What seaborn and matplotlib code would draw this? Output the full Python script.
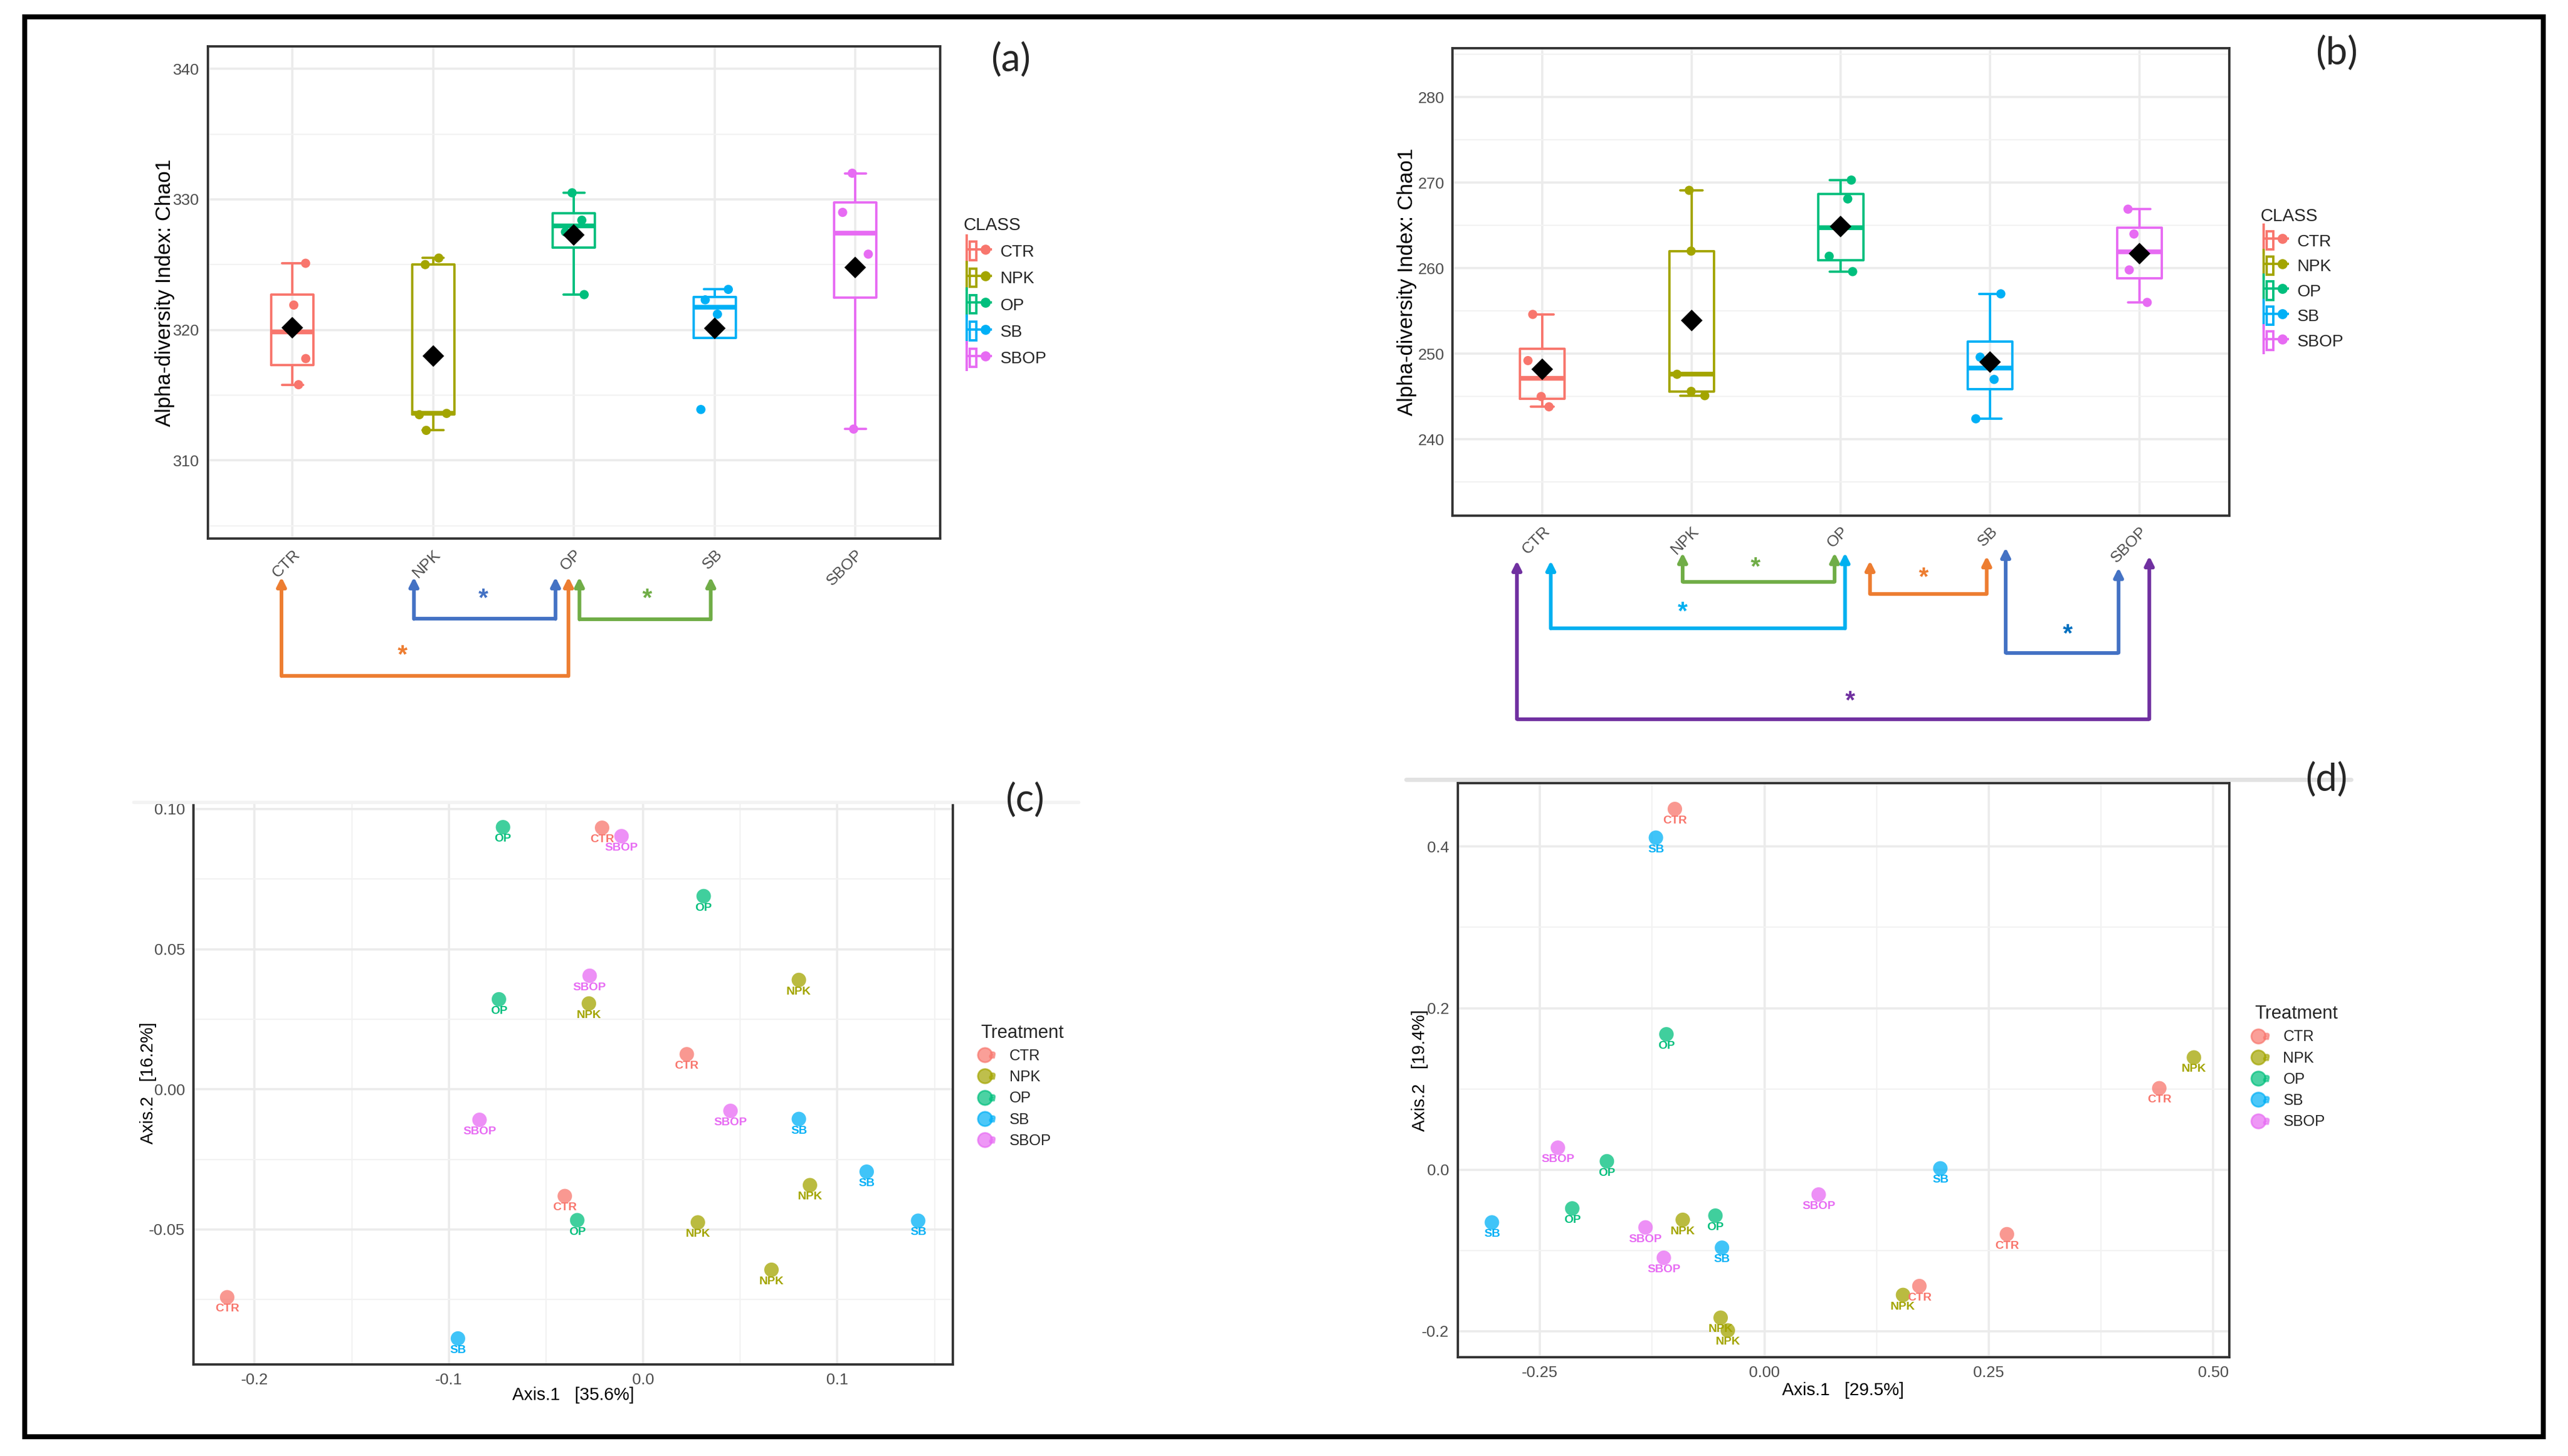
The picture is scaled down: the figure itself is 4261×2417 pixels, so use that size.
import numpy as np
import pandas as pd
import matplotlib
matplotlib.use("Agg")
import matplotlib.pyplot as plt
import matplotlib.transforms as mtransforms
from matplotlib.patches import Patch, Rectangle
from matplotlib.lines import Line2D
from matplotlib.legend_handler import HandlerTuple
from matplotlib.ticker import MultipleLocator, FixedLocator
import seaborn as sns

# groups and colours (ggplot default hues)
classes = ["CTR", "NPK", "OP", "SB", "SBOP"]
colors = ["#F8766D", "#A3A500", "#00BF7D", "#00B0F6", "#E76BF3"]

# Chao1 values, panel (a)
a_ctr = [325.1, 321.9, 317.8, 315.8]
a_npk = [325.5, 325.0, 313.6, 313.5, 312.3]
a_op = [330.5, 328.4, 327.5, 322.7]
a_sb = [323.1, 322.3, 321.2, 313.9]
a_sbop = [332.0, 329.0, 325.8, 312.4]

# Chao1 values, panel (b)
b_ctr = [254.6, 249.2, 245.0, 243.8]
b_npk = [269.1, 262.0, 247.6, 245.6, 245.1]
b_op = [270.3, 268.1, 261.4, 259.6]
b_sb = [257.0, 249.6, 247.0, 242.4]
b_sbop = [266.9, 264.0, 259.8, 256.0]

# PCoA, panel (c)
c_treat = ["OP", "CTR", "SBOP", "OP", "SBOP", "NPK", "OP", "NPK", "CTR", "SBOP", "SB",
           "SBOP", "SB", "NPK", "CTR", "OP", "NPK", "SB", "NPK", "CTR", "SB"]
c_axis1 = [-0.0721, -0.0211, -0.0111, 0.0312, -0.0275, 0.0802, -0.0742, -0.0279, 0.0225, 0.0450, 0.0802,
           -0.0842, 0.1151, 0.0859, -0.0403, -0.0339, 0.0282, 0.1416, 0.0661, -0.2141, -0.0953]
c_axis2 = [0.0935, 0.0933, 0.0903, 0.0689, 0.0405, 0.0390, 0.0321, 0.0306, 0.0125, -0.0077, -0.0106,
           -0.0109, -0.0294, -0.0342, -0.0381, -0.0467, -0.0475, -0.0469, -0.0644, -0.0742, -0.0889]

# PCoA, panel (d)
d_treat = ["CTR", "SB", "OP", "NPK", "CTR", "SBOP", "OP", "SB", "SBOP", "OP", "SB",
           "NPK", "OP", "SBOP", "CTR", "SB", "SBOP", "CTR", "NPK", "NPK", "NPK"]
d_axis1 = [-0.0998, -0.1209, -0.1092, 0.4784, 0.4398, -0.2301, -0.1755, 0.1959, 0.0604, -0.2141, -0.3036,
           -0.0910, -0.0546, -0.1325, 0.2701, -0.0473, -0.1121, 0.1726, 0.1544, -0.0488, -0.0408]
d_axis2 = [0.4465, 0.4110, 0.1676, 0.1389, 0.1008, 0.0272, 0.0104, 0.0016, -0.0308, -0.0480, -0.0653,
           -0.0621, -0.0569, -0.0715, -0.0799, -0.0966, -0.1091, -0.1441, -0.1551, -0.1833, -0.1990]

# significance pairs below the box plots
a_pairs = [("NPK", "OP"), ("OP", "SB"), ("CTR", "OP")]
b_pairs = [("NPK", "OP"), ("CTR", "OP"), ("OP", "SB"), ("SB", "SBOP"), ("CTR", "SBOP")]


def long_df(groups):
    rows = []
    for name, vals in zip(classes, groups):
        for v in vals:
            rows.append((name, v))
    return pd.DataFrame(rows, columns=["CLASS", "chao1"])


def style_axes(ax):
    for s in ax.spines.values():
        s.set_color("#333333")
        s.set_linewidth(1.4)
    ax.set_facecolor("white")
    ax.grid(True, which="major", color="#EBEBEB", linewidth=1.3, zorder=0)
    ax.grid(True, which="minor", color="#F2F2F2", linewidth=0.8, zorder=0)
    ax.set_axisbelow(True)
    ax.tick_params(which="major", length=3, width=0.9, color="#333333",
                   labelcolor="#4D4D4D", labelsize=9.5, pad=2)
    ax.tick_params(which="minor", length=0)


def box_panel(ax, groups, ylim, yticks, seed):
    df = long_df(groups)
    pal = dict(zip(classes, colors))
    sns.boxplot(data=df, x="CLASS", y="chao1", hue="CLASS", order=classes, palette=pal,
                fill=False, width=0.3, whis=1.5, showfliers=False, linewidth=1.4,
                legend=False, medianprops={"linewidth": 2.8}, ax=ax)
    np.random.seed(seed)
    sns.stripplot(data=df, x="CLASS", y="chao1", hue="CLASS", order=classes, palette=pal,
                  jitter=0.1, size=5.5, legend=False, zorder=3, ax=ax)
    sns.pointplot(data=df, x="CLASS", y="chao1", order=classes, estimator="mean", errorbar=None,
                  color="black", markers="D", linestyle="none", markersize=7, zorder=5, ax=ax)
    ax.set_xlim(-0.6, 4.6)
    ax.set_ylim(*ylim)
    ax.yaxis.set_major_locator(FixedLocator(yticks))
    ax.yaxis.set_minor_locator(MultipleLocator(5))
    style_axes(ax)
    ax.set_xlabel("")
    ax.set_ylabel("Alpha-diversity Index: Chao1", fontsize=12.5, color="black")
    ax.set_xticks(range(len(classes)))
    ax.set_xticklabels(classes)
    ax.tick_params(axis="x", labelrotation=45)
    for lab in ax.get_xticklabels():
        lab.set_horizontalalignment("right")
        lab.set_verticalalignment("top")
        lab.set_rotation_mode("anchor")
    handles = []
    for c in colors:
        handles.append((Line2D([], [], color=c, marker="|", markersize=18, markeredgewidth=1.4, linestyle="none"),
                        Patch(facecolor="white", edgecolor=c, linewidth=1.4),
                        Line2D([], [], color=c, marker="_", markersize=15, markeredgewidth=1.4, linestyle="none"),
                        Line2D([], [], color=c, marker="o", markersize=5, linestyle="none")))
    return handles


def bracket(ax, x1, x2, tip1, tip2, level, color, star_x, star_y, star_color):
    tr = mtransforms.blended_transform_factory(ax.transData, ax.transAxes)
    ax.plot([x1, x2], [level, level], color=color, lw=2.2, transform=tr, clip_on=False,
            solid_capstyle="butt")
    for x, tip in ((x1, tip1), (x2, tip2)):
        ax.annotate("", xy=(x, tip), xytext=(x, level), xycoords=tr, textcoords=tr,
                    annotation_clip=False,
                    arrowprops=dict(arrowstyle="-|>", color=color, lw=2.2, shrinkA=0, shrinkB=0,
                                    mutation_scale=11))
    ax.text(star_x, star_y, "*", transform=tr, ha="center", va="center", fontsize=15,
            fontweight="bold", color=star_color, clip_on=False)


def pcoa_panel(ax, treat, x, y, xlim, ylim, xticks, xlabels, yticks, ylabels, xminor, yminor):
    df = pd.DataFrame({"Treatment": treat, "Axis.1": x, "Axis.2": y})
    pal = dict(zip(classes, colors))
    sns.scatterplot(data=df, x="Axis.1", y="Axis.2", hue="Treatment", hue_order=classes,
                    palette=pal, s=75, alpha=0.75, edgecolor="none", legend=False, zorder=3, ax=ax)
    for t, px, py in zip(df["Treatment"], df["Axis.1"], df["Axis.2"]):
        ax.annotate(t, (px, py), xytext=(0, -7), textcoords="offset points", ha="center",
                    va="center", fontsize=7, fontweight="bold", color=pal[t], zorder=4)
    ax.set_xlim(*xlim)
    ax.set_ylim(*ylim)
    ax.set_xticks(xticks)
    ax.set_xticklabels(xlabels)
    ax.set_yticks(yticks)
    ax.set_yticklabels(ylabels)
    ax.xaxis.set_minor_locator(FixedLocator(xminor))
    ax.yaxis.set_minor_locator(FixedLocator(yminor))
    style_axes(ax)
    handles = []
    for c in colors:
        handles.append((Line2D([], [], color=c, marker="o", markersize=8.5, alpha=0.7, linestyle="none"),
                        Line2D([], [], color=c, marker="$a$", markersize=3.5, alpha=0.6, linestyle="none")))
    return handles


sns.set_style("white")
plt.rcParams["font.family"] = ["Liberation Sans", "DejaVu Sans"]

fig = plt.figure(figsize=(21.305, 12.085), dpi=200)

box_leg = dict(frameon=False, fontsize=10, title_fontsize=10.5, alignment="left", numpoints=1,
               handlelength=1.5, handleheight=1.3, handletextpad=0.7,
               borderpad=0, handler_map={tuple: HandlerTuple(ndivide=None)})
pts_leg = dict(frameon=False, fontsize=9, title_fontsize=11, alignment="left", numpoints=1,
               handlelength=1.0, labelspacing=0.45, handletextpad=0.9, borderpad=0,
               handler_map={tuple: HandlerTuple(ndivide=None)})

# (a)
ax_a = fig.add_axes([0.081, 0.630, 0.285, 0.338])
h = box_panel(ax_a, [a_ctr, a_npk, a_op, a_sb, a_sbop], (304.0, 341.7), [310, 320, 330, 340], 4)
ax_a.yaxis.set_label_coords(-0.045, 0.5)
ax_a.legend(h, classes, title="CLASS", loc="upper left", bbox_to_anchor=(0.372, 0.857),
            bbox_transform=fig.transFigure, labelspacing=0.5, **box_leg)
a_geom = [  # x1, x2, tip1, tip2, level, line colour, star x, star y, star colour
    (0.863, 1.869, -0.078, -0.078, -0.163, "#4472C4", 1.355, -0.122, "#4472C4"),
    (2.039, 2.972, -0.078, -0.078, -0.164, "#70AD47", 2.523, -0.122, "#70AD47"),
    (-0.078, 1.961, -0.078, -0.078, -0.279, "#ED7D31", 0.784, -0.237, "#ED7D31"),
]
for pair, g in zip(a_pairs, a_geom):
    bracket(ax_a, *g)

# (b)
ax_b = fig.add_axes([0.5657, 0.646, 0.3023, 0.3208])
h = box_panel(ax_b, [b_ctr, b_npk, b_op, b_sb, b_sbop], (231.1, 285.7), [240, 250, 260, 270, 280], 11)
ax_b.yaxis.set_label_coords(-0.046, 0.5)
ax_b.legend(h, classes, title="CLASS", loc="upper left", bbox_to_anchor=(0.877, 0.863),
            bbox_transform=fig.transFigure, labelspacing=0.4, **box_leg)
b_geom = [
    (0.940, 1.958, -0.080, -0.080, -0.142, "#70AD47", 1.43, -0.112, "#70AD47"),
    (0.057, 2.028, -0.097, -0.080, -0.242, "#00B0F0", 0.94, -0.207, "#00B0F0"),
    (2.195, 2.977, -0.097, -0.087, -0.168, "#ED7D31", 2.557, -0.133, "#ED7D31"),
    (3.104, 3.860, -0.069, -0.112, -0.294, "#4472C4", 3.519, -0.255, "#0070C0"),
    (-0.170, 4.066, -0.097, -0.087, -0.436, "#7030A0", 2.063, -0.398, "#7030A0"),
]
for pair, g in zip(b_pairs, b_geom):
    bracket(ax_b, *g)

# (c)
ax_c = fig.add_axes([0.0753, 0.063, 0.2957, 0.386])
h = pcoa_panel(ax_c, c_treat, c_axis1, c_axis2, (-0.2315, 0.1594), (-0.0981, 0.1024),
               [-0.2, -0.1, 0.0, 0.1], ["-0.2", "-0.1", "0.0", "0.1"],
               [-0.05, 0.0, 0.05, 0.10], ["-0.05", "0.00", "0.05", "0.10"],
               [-0.15, -0.05, 0.05, 0.15], [-0.075, -0.025, 0.025, 0.075])
ax_c.set_xlabel("Axis.1   [35.6%]", fontsize=10.5, color="black")
ax_c.set_ylabel("Axis.2   [16.2%]", fontsize=10.5, color="black")
ax_c.xaxis.set_label_coords(0.5, -0.04)
ax_c.yaxis.set_label_coords(-0.048, 0.5)
ax_c.legend(h, classes, title="Treatment", loc="upper left", bbox_to_anchor=(0.379, 0.302),
            bbox_transform=fig.transFigure, **pts_leg)

# (d)
ax_d = fig.add_axes([0.5676, 0.068, 0.3004, 0.394])
h = pcoa_panel(ax_d, d_treat, d_axis1, d_axis2, (-0.3418, 0.5175), (-0.2319, 0.4783),
               [-0.25, 0.0, 0.25, 0.50], ["-0.25", "0.00", "0.25", "0.50"],
               [-0.2, 0.0, 0.2, 0.4], ["-0.2", "0.0", "0.2", "0.4"],
               [-0.125, 0.125, 0.375], [-0.1, 0.1, 0.3])
ax_d.set_xlabel("Axis.1   [29.5%]", fontsize=10.5, color="black")
ax_d.set_ylabel("Axis.2   [19.4%]", fontsize=10.5, color="black")
ax_d.xaxis.set_label_coords(0.5, -0.043)
ax_d.yaxis.set_label_coords(-0.038, 0.5)
ax_d.legend(h, classes, title="Treatment", loc="upper left", bbox_to_anchor=(0.875, 0.315),
            bbox_transform=fig.transFigure, **pts_leg)

# faint strips left from the pasted screenshots
fig.add_artist(Line2D([0.5475, 0.9155], [0.4645, 0.4645], transform=fig.transFigure,
                      color="#E2E2E2", lw=2.5))
fig.add_artist(Line2D([0.052, 0.42], [0.449, 0.449], transform=fig.transFigure,
                      color="#F3F3F3", lw=2))

# panel letters
for lab, x, y in (("(a)", 0.3935, 0.9585), ("(b)", 0.910, 0.963),
                  ("(c)", 0.399, 0.450), ("(d)", 0.906, 0.464)):
    fig.text(x, y, lab, ha="center", va="center", fontsize=23, family=["Lato", "DejaVu Sans"])

# outer frame
fig.add_artist(Rectangle((0.0096, 0.0134), 0.9808, 0.9751, transform=fig.transFigure,
                         fill=False, edgecolor="black", linewidth=3))

fig.savefig("out.png", dpi=200, facecolor="white")
